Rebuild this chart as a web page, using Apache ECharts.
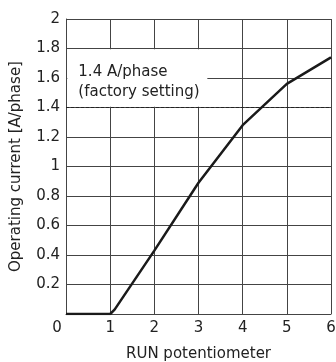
<!DOCTYPE html>
<html>
<head>
<meta charset="utf-8">
<script src="https://cdn.jsdelivr.net/npm/echarts@6/dist/echarts.min.js"></script>
<style>
  html, body { margin: 0; padding: 0; background: #fff; }
  #chart { width: 336px; height: 362px; }
</style>
</head>
<body>
<div id="chart"></div>
<script>
// potentiometer position vs operating current
const knob = [0, 1, 1.1, 2, 3, 4, 5, 6];
const current = [0, 0, 0.03, 0.43, 0.89, 1.28, 1.56, 1.74];
const factorySetting = 1.4;
const noteText = '1.4 A/phase\n(factory setting)';

const font = 'DejaVu Sans, sans-serif';
const gridColor = '#444';

const chart = echarts.init(document.getElementById('chart'));
const option = {
  animation: false,
  grid: { left: 66, right: 5, top: 19, bottom: 48, outerBoundsMode: 'none' },
  textStyle: { fontFamily: font },
  xAxis: {
    type: 'value',
    min: 0, max: 6, interval: 1,
    name: 'RUN potentiometer',
    nameLocation: 'middle',
    nameGap: 33,
    nameTextStyle: { fontSize: 15, color: '#222', fontFamily: font },
    axisLine: { lineStyle: { color: gridColor, width: 1 } },
    axisTick: { show: false },
    axisLabel: {
      fontSize: 15, color: '#222', margin: 7, fontFamily: font,
      // the shared 0 sits left of the corner
      formatter: v => v === 0 ? '{z|0}' : String(v),
      rich: { z: { fontSize: 15, color: '#222', fontFamily: font, padding: [0, 18, 0, 0] } }
    },
    splitLine: { show: true, lineStyle: { color: gridColor, width: 1 } }
  },
  yAxis: {
    type: 'value',
    min: 0, max: 2, interval: 0.2,
    name: 'Operating current [A/phase]',
    nameLocation: 'middle',
    nameGap: 42,
    nameTextStyle: { fontSize: 15, color: '#222', fontFamily: font },
    axisLine: { show: true, lineStyle: { color: gridColor, width: 1 } },
    axisTick: { show: false },
    axisLabel: {
      fontSize: 15, color: '#222', margin: 6, fontFamily: font,
      showMinLabel: false,
      formatter: v => String(+v.toFixed(1))
    },
    splitLine: { show: true, lineStyle: { color: gridColor, width: 1 } }
  },
  series: [
    {
      type: 'line',
      data: knob.map((k, i) => [k, current[i]]),
      symbol: 'none',
      lineStyle: { color: '#1a1a1a', width: 2.5 },
      z: 5,
      markLine: {
        silent: true,
        symbol: 'none',
        label: { show: false },
        lineStyle: { color: '#222', width: 1, type: [3, 2] },
        data: [{ yAxis: factorySetting }]
      },
      markArea: {
        silent: true,
        itemStyle: { color: '#fff', opacity: 1 },
        label: {
          show: true,
          position: 'insideLeft',
          distance: 11,
          offset: [0, 4],
          fontSize: 15,
          lineHeight: 20,
          color: '#222',
          fontFamily: font
        },
        data: [[
          { name: noteText, xAxis: 0.03, yAxis: factorySetting + 0.005 },
          { xAxis: 3.2, yAxis: 1.795 }
        ]]
      }
    }
  ]
};
chart.setOption(option);
</script>
</body>
</html>
